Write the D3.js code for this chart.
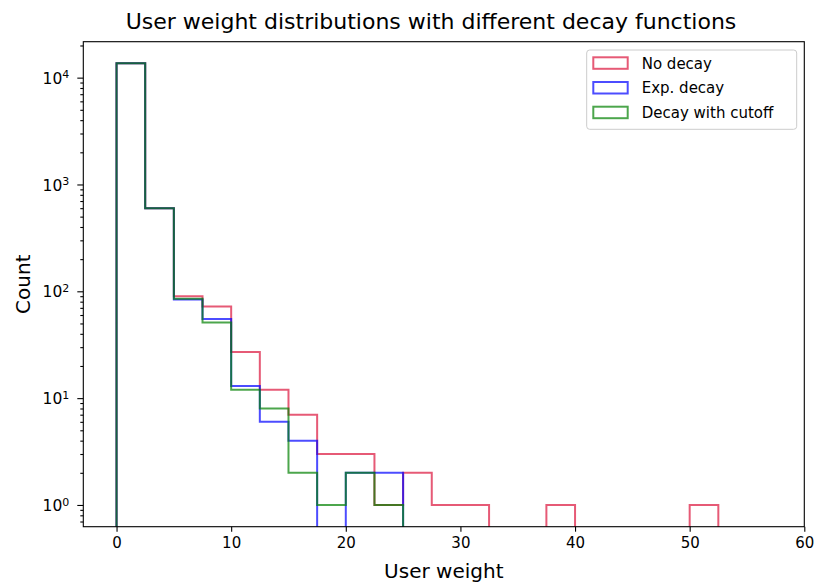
<!DOCTYPE html>
<html lang="en">
<head>
<meta charset="utf-8">
<title>User weight distributions</title>
<script src="https://cdn.jsdelivr.net/npm/d3@7"></script>
<style>
  body { margin: 0; background: #fff; }
  text { font-family: "DejaVu Sans", sans-serif; fill: #000; }
</style>
</head>
<body>
<script>

// bin edges: 0, 2.5, ..., 52.5
var binWidth = 2.5;
var binStarts = [0, 2.5, 5, 7.5, 10, 12.5, 15, 17.5, 20, 22.5, 25, 27.5, 30, 32.5, 35, 37.5, 40, 42.5, 45, 47.5, 50];

var noDecay     = [13650, 600, 90, 72, 27, 12, 7, 3, 3, 1, 2, 1, 1, 0, 0, 1, 0, 0, 0, 0, 1];
var expDecay    = [13650, 600, 84, 55, 13, 6, 4, 0, 2, 2, 0, 0, 0, 0, 0, 0, 0, 0, 0, 0, 0];
var cutoffDecay = [13650, 600, 85, 51, 12, 8, 2, 1, 2, 1, 0, 0, 0, 0, 0, 0, 0, 0, 0, 0, 0];

var seriesNames = ["No decay", "Exp. decay", "Decay with cutoff"];
var seriesColors = ["crimson", "blue", "green"];

var xTicks = [0, 10, 20, 30, 40, 50, 60];
var yTicks = [1, 10, 100, 1000, 10000];

var w = 830, h = 586;
var margin = {top: 41.7, right: 25.7, bottom: 59.3, left: 83.3};
var iw = w - margin.left - margin.right;
var ih = h - margin.top - margin.bottom;

var svg = d3.select("body").append("svg")
    .attr("width", w)
    .attr("height", h);

var x = d3.scaleLinear().domain([-2.9, 60]).range([0, iw]);
var y = d3.scaleLog().domain([0.626, 21700]).range([ih, 0]);

var g = svg.append("g")
    .attr("transform", "translate(" + margin.left + "," + margin.top + ")");

g.append("clipPath").attr("id", "plotclip")
  .append("rect").attr("width", iw).attr("height", ih);

// step outlines, empty bins drop below the axis
function stepPath(values) {
  var below = ih + 20;
  var yy = function(v) { return v > 0 ? y(v) : below; };
  var p = d3.path();
  p.moveTo(x(binStarts[0]), below);
  values.forEach(function(v, i) {
    p.lineTo(x(binStarts[i]), yy(v));
    p.lineTo(x(binStarts[i] + binWidth), yy(v));
  });
  p.lineTo(x(binStarts[binStarts.length - 1] + binWidth), below);
  return p.toString();
}

var allSeries = [noDecay, expDecay, cutoffDecay];

g.append("g").attr("clip-path", "url(#plotclip)")
  .selectAll("path")
  .data(allSeries)
  .enter().append("path")
    .attr("d", stepPath)
    .attr("fill", "none")
    .attr("stroke", function(d, i) { return seriesColors[i]; })
    .attr("stroke-opacity", 0.7)
    .attr("stroke-width", 2)
    .attr("stroke-linejoin", "miter");

// axes
var xAxis = d3.axisBottom(x).tickValues(xTicks).tickSize(5).tickPadding(5).tickFormat(d3.format("d"));
var gx = g.append("g").attr("transform", "translate(0," + ih + ")").call(xAxis);
gx.select(".domain").remove();
gx.selectAll("text").style("font-size", "15px").attr("dy", "0.75em");

var minorTicks = [];
[0.1, 1, 10, 100, 1000, 10000].forEach(function(dec) {
  for (var k = 2; k <= 9; k++) {
    var v = dec * k;
    if (v >= y.domain()[0] && v <= y.domain()[1]) minorTicks.push(v);
  }
});

var gyMinor = g.append("g").call(d3.axisLeft(y).tickValues(minorTicks).tickSize(3).tickFormat(""));
gyMinor.select(".domain").remove();

var gy = g.append("g").call(d3.axisLeft(y).tickValues(yTicks).tickSize(6).tickFormat(""));
gy.select(".domain").remove();

// 10^n labels with superscript
gy.selectAll(".tick").each(function(d) {
  var t = d3.select(this).append("text")
      .attr("x", -14)
      .attr("dy", "0.36em")
      .attr("text-anchor", "end")
      .style("font-size", "15.5px");
  t.append("tspan").text("10");
  t.append("tspan").text(Math.round(Math.log10(d)))
      .attr("dy", "-0.5em")
      .style("font-size", "11px");
});

g.selectAll(".tick line").attr("stroke", "#000").attr("stroke-width", 1.1);

// frame
g.append("rect")
    .attr("width", iw).attr("height", ih)
    .attr("fill", "none")
    .attr("stroke", "#000")
    .attr("stroke-width", 1.1);

// title and labels
svg.append("text")
    .attr("x", 431)
    .attr("y", 29)
    .attr("text-anchor", "middle")
    .style("font-size", "22px")
    .text("User weight distributions with different decay functions");

svg.append("text")
    .attr("x", margin.left + iw / 2)
    .attr("y", 578)
    .attr("text-anchor", "middle")
    .style("font-size", "20px")
    .text("User weight");

svg.append("text")
    .attr("transform", "translate(30," + (margin.top + ih / 2) + ") rotate(-90)")
    .attr("text-anchor", "middle")
    .style("font-size", "20px")
    .text("Count");

// legend
var lg = svg.append("g").attr("transform", "translate(586.7,50)");
lg.append("rect")
    .attr("width", 210).attr("height", 79.3)
    .attr("rx", 3)
    .attr("fill", "#fff").attr("fill-opacity", 0.8)
    .attr("stroke", "#ccc");

var items = lg.selectAll(".item")
    .data(seriesNames)
    .enter().append("g")
    .attr("transform", function(d, i) { return "translate(0," + (13.3 + i * 24.7) + ")"; });

items.append("rect")
    .attr("x", 6.6).attr("y", -6)
    .attr("width", 34.4).attr("height", 11.5)
    .attr("fill", "none")
    .attr("stroke", function(d, i) { return seriesColors[i]; })
    .attr("stroke-opacity", 0.7)
    .attr("stroke-width", 2);

items.append("text")
    .attr("x", 55)
    .attr("dy", "0.36em")
    .style("font-size", "15px")
    .text(function(d) { return d; });

</script>
</body>
</html>
